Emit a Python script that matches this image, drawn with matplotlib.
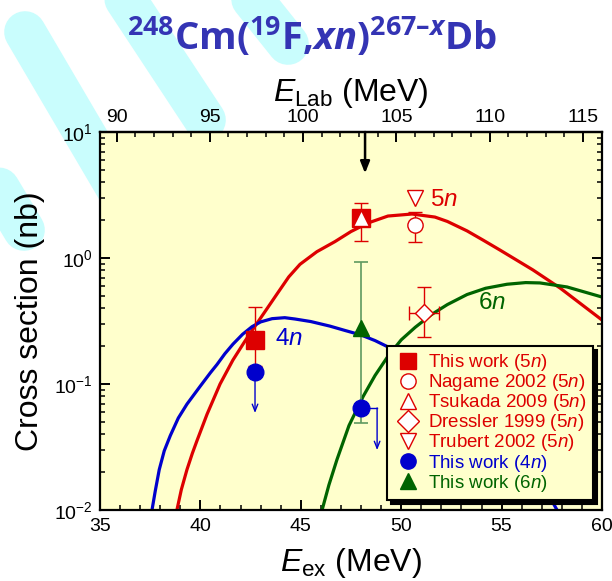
import matplotlib
matplotlib.use("Agg")
import matplotlib.pyplot as plt
from matplotlib.ticker import MultipleLocator, LogLocator, NullFormatter

plt.rcParams['font.family'] = ['Liberation Sans', 'DejaVu Sans']
plt.rcParams['mathtext.fontset'] = 'custom'
plt.rcParams['mathtext.rm'] = 'Liberation Sans'
plt.rcParams['mathtext.it'] = 'Liberation Sans:italic'
plt.rcParams['mathtext.bf'] = 'Open Sans:bold'
plt.rcParams['mathtext.bfit'] = 'Open Sans:bold:italic'
plt.rcParams['axes.unicode_minus'] = False

# ---------------- data (E_ex in MeV, cross section in nb) ----------------
curve5_ex = [38.83, 39.05, 39.33, 39.60, 39.83, 40.33, 40.98, 41.62, 42.22, 42.72,
             43.20, 43.84, 44.40, 44.96, 45.80, 46.70, 47.50, 48.35, 49.34, 50.54,
             51.68, 52.30, 53.28, 54.10, 54.92, 56.56, 57.91, 60.00]
curve5_xs = [0.0100, 0.0145, 0.0209, 0.0282, 0.0355, 0.0575, 0.100, 0.155, 0.219, 0.288,
             0.372, 0.525, 0.708, 0.891, 1.122, 1.349, 1.622, 1.897, 2.153, 2.234,
             2.113, 1.950, 1.641, 1.380, 1.156, 0.804, 0.578, 0.322]

curve4_ex = [37.59, 37.75, 37.95, 38.20, 38.50, 38.90, 39.33, 39.98, 40.50, 40.83,
             41.22, 41.62, 42.10, 42.57, 43.00, 43.57, 44.20, 44.71, 45.50, 46.45,
             47.20, 48.00, 48.70, 49.34, 51.00, 53.00, 55.00, 56.50, 57.56, 57.76]
curve4_xs = [0.0100, 0.0141, 0.0209, 0.0295, 0.0389, 0.0537, 0.0692, 0.0955, 0.123, 0.143,
             0.174, 0.207, 0.248, 0.285, 0.311, 0.330, 0.336, 0.328, 0.313, 0.288,
             0.266, 0.245, 0.221, 0.197, 0.140, 0.083, 0.040, 0.020, 0.0114, 0.0100]

curve6_ex = [46.06, 46.40, 46.80, 47.40, 48.10, 48.70, 49.34, 50.00, 50.70, 51.50,
             52.30, 53.28, 54.20, 55.27, 56.20, 56.91, 58.26, 60.00]
curve6_xs = [0.0100, 0.0158, 0.0251, 0.0468, 0.0794, 0.117, 0.166, 0.224, 0.282, 0.355,
             0.427, 0.513, 0.575, 0.619, 0.638, 0.634, 0.589, 0.490]

this5_ex = [42.72, 48.0]
this5_xs = [0.223, 2.07]
this5_lo = [0.14, 1.36]
this5_hi = [0.408, 2.74]

nagame_ex = [50.69]
nagame_xs = [1.83]
nagame_lo = [1.34]
nagame_hi = [2.32]

tsukada_ex = [48.0]
tsukada_xs = [2.07]

dressler_ex = [51.14]
dressler_xs = [0.366]
dressler_lo = [0.236]
dressler_hi = [0.589]
dressler_dex = [0.75]

trubert_ex = [50.69]
trubert_xs = [3.0]

this4_ex = [42.72, 48.0]
this4_xs = [0.1245, 0.0646]
this4_arrow_ex = [42.72, 48.8]
this4_arrow_tip = [0.0589, 0.0299]

this6_ex = [48.0]
this6_xs = [0.278]
this6_lo = [0.049]
this6_hi = [0.93]

lab_ticks = [90, 95, 100, 105, 110, 115]
beam_arrow_ex = 48.2

legend_labels = ['This work (5$\\mathit{n}$)', 'Nagame 2002 (5$\\mathit{n}$)',
                 'Tsukada 2009 (5$\\mathit{n}$)', 'Dressler 1999 (5$\\mathit{n}$)',
                 'Trubert 2002 (5$\\mathit{n}$)', 'This work (4$\\mathit{n}$)',
                 'This work (6$\\mathit{n}$)']

RED = '#dd0000'
BLUE = '#0000cc'
GREEN = '#006400'
GREEN_ERR = '#5f9a5f'
YELLOW = '#ffffcc'
TITLE = '#3434b4'
CYAN = '#c9fdfd'

fig = plt.figure(figsize=(6.12, 5.81), dpi=100)

# decorative background stripes (pixel coordinates of the figure)
bg = fig.add_axes([0, 0, 1, 1], zorder=0)
stripes = [((25, 32), (200, 330)),
           ((60, -100), (205, 120)),
           ((205, -60), (288, 44)),
           ((372, -80), (414, -10)),
           ((-90, 40), (24, 230))]
for (x0, y0), (x1, y1) in stripes:
    bg.plot([x0, x1], [y0, y1], color=CYAN, lw=30, solid_capstyle='round', zorder=0)
bg.set_xlim(0, 612)
bg.set_ylim(581, 0)
bg.axis('off')

ax = fig.add_axes([100 / 612, 71 / 581, 502 / 612, 378 / 581], zorder=1)
ax.set_facecolor(YELLOW)
ax.set_yscale('log')
ax.set_xlim(35, 60)
ax.set_ylim(0.01, 10)

# curves
ax.plot(curve5_ex, curve5_xs, color=RED, lw=2.3, zorder=2, solid_joinstyle='round')
ax.plot(curve6_ex, curve6_xs, color=GREEN, lw=2.3, zorder=2.1, solid_joinstyle='round')
ax.plot(curve4_ex, curve4_xs, color=BLUE, lw=2.3, zorder=2.2, solid_joinstyle='round')

# error bars
def yerr(xs, lo, hi):
    return [[v - l for v, l in zip(xs, lo)], [h - v for v, h in zip(xs, hi)]]

ax.errorbar(this5_ex, this5_xs, yerr=yerr(this5_xs, this5_lo, this5_hi), fmt='none',
            ecolor=RED, elinewidth=1, capsize=5, capthick=1, zorder=3)
ax.errorbar(nagame_ex, nagame_xs, yerr=yerr(nagame_xs, nagame_lo, nagame_hi), fmt='none',
            ecolor=RED, elinewidth=1, capsize=5, capthick=1, zorder=3)
ax.errorbar(dressler_ex, dressler_xs, yerr=yerr(dressler_xs, dressler_lo, dressler_hi),
            xerr=dressler_dex, fmt='none', ecolor=RED, elinewidth=1, capsize=5,
            capthick=1, zorder=3)
ax.errorbar(this6_ex, this6_xs, yerr=yerr(this6_xs, this6_lo, this6_hi), fmt='none',
            ecolor=GREEN_ERR, elinewidth=1.2, capsize=5, capthick=1.2, zorder=3)

# 4n upper-limit arrows
ax.plot([this4_ex[1], this4_arrow_ex[1]], [this4_xs[1], this4_xs[1]], color=BLUE, lw=1, zorder=3)
for xa, y0, yt in zip(this4_arrow_ex, this4_xs, this4_arrow_tip):
    ax.annotate('', xy=(xa, yt), xytext=(xa, y0),
                arrowprops=dict(arrowstyle='->,head_length=0.5,head_width=0.2', color=BLUE,
                                lw=1, shrinkA=0, shrinkB=0), zorder=3)

# markers
mk = dict(linestyle='none', zorder=4)
h_this5, = ax.plot(this5_ex, this5_xs, marker='s', ms=13, mfc=RED, mec=RED, **mk)
h_nag, = ax.plot(nagame_ex, nagame_xs, marker='o', ms=11, mfc='white', mec=RED, mew=1, **mk)
h_tsu, = ax.plot(tsukada_ex, tsukada_xs, marker='^', ms=11, mfc='white', mec=RED, mew=1, **mk)
h_dre, = ax.plot(dressler_ex, dressler_xs, marker='D', ms=9, mfc='white', mec=RED, mew=1, **mk)
h_tru, = ax.plot(trubert_ex, trubert_xs, marker='v', ms=11, mfc='white', mec=RED, mew=1, **mk)
h_this4, = ax.plot(this4_ex, this4_xs, marker='o', ms=12, mfc=BLUE, mec=BLUE, **mk)
h_this6, = ax.plot(this6_ex, this6_xs, marker='^', ms=12, mfc=GREEN, mec=GREEN, **mk)

# beam-energy arrow
ax.annotate('', xy=(beam_arrow_ex, 4.7), xytext=(beam_arrow_ex, 10),
            arrowprops=dict(arrowstyle='-|>,head_length=0.7,head_width=0.28', color='k',
                            lw=1.8, shrinkA=0, shrinkB=0), zorder=5)

# curve labels
ax.text(51.43, 2.89, '5$\\mathit{n}$', color=RED, fontsize=17.5, va='center', ha='left', zorder=5)
ax.text(53.82, 0.44, '6$\\mathit{n}$', color=GREEN, fontsize=17.5, va='center', ha='left', zorder=5)
ax.text(43.72, 0.226, '4$\\mathit{n}$', color=BLUE, fontsize=17.5, va='center', ha='left', zorder=5)

# axes styling
for s in ax.spines.values():
    s.set_linewidth(1.6)
ax.xaxis.set_major_locator(MultipleLocator(5))
ax.xaxis.set_minor_locator(MultipleLocator(1))
ax.yaxis.set_major_locator(LogLocator(base=10, numticks=10))
ax.yaxis.set_minor_locator(LogLocator(base=10, subs=range(2, 10), numticks=20))
ax.yaxis.set_minor_formatter(NullFormatter())
ax.tick_params(which='both', direction='in', top=False, right=True, labelsize=14, width=1.4)
ax.tick_params(which='major', length=7)
ax.tick_params(which='minor', length=3.5, width=1.1)
ax.tick_params(axis='x', pad=6)
ax.tick_params(axis='y', pad=5)

ax.set_xlabel('$\\mathit{E}_{\\mathrm{ex}}$ (MeV)', fontsize=23, labelpad=8)
ax.set_ylabel('Cross section (nb)', fontsize=23, labelpad=7)

ratio = 248 / 267
qval = -47.77

def lab2ex(e):
    return e * ratio + qval

def ex2lab(e):
    return (e - qval) / ratio

sec = ax.secondary_xaxis('top', functions=(ex2lab, lab2ex))
sec.set_xticks(lab_ticks)
sec.xaxis.set_minor_locator(MultipleLocator(1))
sec.tick_params(which='both', direction='in', labelsize=14, width=1.4, pad=4)
sec.tick_params(which='major', length=7)
sec.tick_params(which='minor', length=3.5, width=1.1)
sec.spines['top'].set_linewidth(1.6)
sec.set_xlabel('$\\mathit{E}_{\\mathrm{Lab}}$ (MeV)', fontsize=23, labelpad=6)

# legend
handles = [h_this5, h_nag, h_tsu, h_dre, h_tru, h_this4, h_this6]
leg = ax.legend(handles, legend_labels, loc='lower right', bbox_to_anchor=(0.982, 0.026),
                borderaxespad=0, fontsize=13.5, frameon=True, fancybox=False,
                framealpha=1, facecolor=YELLOW, edgecolor='black',
                shadow={'ox': 3, 'oy': -3, 'facecolor': 'black', 'edgecolor': 'black', 'alpha': 1},
                handlelength=1.5, handletextpad=0.35, borderpad=0.35, labelspacing=-0.05,
                numpoints=1)
leg.get_frame().set_linewidth(1.5)
leg.set_zorder(10)
colors = [RED] * 5 + [BLUE, GREEN]
for t, c in zip(leg.get_texts(), colors):
    t.set_color(c)
for h in leg.legend_handles:
    h.set_markersize(11)

# title
title = ('$^{\\mathbf{248}}\\mathbf{Cm(}^{\\mathbf{19}}\\mathbf{F{,}}\\mathbfit{xn}'
         '\\mathbf{)}^{\\mathbf{267\u2013}\\mathbfit{x}}\\mathbf{Db}$')
fig.text(312 / 612, 1 - 50 / 581, title, ha='center', va='baseline', fontsize=27.5, color=TITLE)

fig.savefig('out.png', dpi=100)
